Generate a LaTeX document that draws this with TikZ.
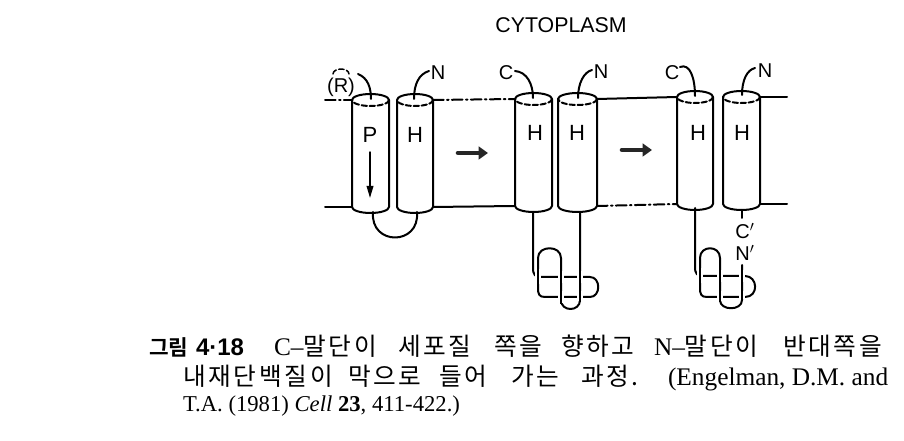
\documentclass[tikz,border=0pt]{standalone}
\usepackage{fontspec}
\usetikzlibrary{arrows.meta}
\setmainfont{Liberation Serif}
\setsansfont{Liberation Sans}
\newfontfamily\kr[LetterSpace=11]{Noto Sans CJK KR}
\newfontfamily\krb[BoldFont={* Bold}]{Noto Sans CJK KR}
\newcommand\mycyl[4]{%
  \pgfmathsetmacro\myrx{(#2-#1)/2}%
  \draw (#1,#3) -- (#1,#4) arc[start angle=180,end angle=0,x radius=\myrx,y radius=6] -- (#2,#3) arc[start angle=0,end angle=-180,x radius=\myrx,y radius=6];
  \draw[dashed] (#2,#3) arc[start angle=0,end angle=180,x radius=\myrx,y radius=6];
}
\begin{document}
\begin{tikzpicture}[x=0.75pt,y=-0.75pt,line width=1.5pt,line cap=round,line join=round,
  dashed/.style={dash pattern=on 4pt off 2pt},
  dashdot/.style={dash pattern=on 8pt off 2.5pt on 1.2pt off 2.5pt},
  lab/.style={font=\sffamily\fontsize{15}{15}\selectfont,inner sep=0},
  hl/.style={font=\sffamily\fontsize{16.5}{16.5}\selectfont,inner sep=0},
  capt/.style={anchor=base west,inner sep=0,font=\rmfamily\fontsize{19}{19}\selectfont},
  kor/.style={anchor=base west,inner sep=0,font=\kr\fontsize{18.5}{18.5}\selectfont},
  bigarrow/.style={line width=3.4pt,black!85,-{Triangle[length=7pt,width=9.5pt]}},
  halo/.style={white,line width=4.5pt,line cap=butt}]
\useasboundingbox (0,0) rectangle (904,441);

% title
\node[font=\sffamily\fontsize{16}{16}\selectfont,inner sep=0] (cyto) at (561,25) {CYTOPLASM};

% membrane lines
\draw[dashdot] (325,100) -- (352,100);
\draw[dashdot] (433,100) -- (515,99);
\draw (597,99) -- (677,97);
\draw (760,97) -- (787,97);
\draw (325,207) -- (352,207);
\draw (433,207) -- (515,206);
\draw[dashdot] (597,206) -- (677,204);
\draw (760,204) -- (787,204);

% stage 1
\mycyl{352}{389}{100}{207}
\mycyl{397}{433}{100}{207}
\node[hl] (p1) at (370,135) {P};
\node[hl] (h1) at (415,135) {H};
\draw[line width=1.1pt,-{Triangle[length=9pt,width=5pt]}] (370,152) -- (370,198);
\node[lab] (r1) at (341,87) {(R)};
\draw[dashed,line width=1.1pt] (333,74) arc[start angle=180,end angle=360,x radius=8,y radius=5];
\draw (358,74) .. controls (368,78) and (371,88) .. (371,99);
\node[lab] (n1) at (438,73) {N};
\draw (414,99) .. controls (414,84) and (419,74) .. (429,71);
\draw (373,212) .. controls (370,246) and (420,246) .. (417,212);

\draw[bigarrow] (458,153) -- (488,153);

% stage 2
\mycyl{515}{552}{99}{206}
\mycyl{558}{597}{99}{206}
\node[hl] (h2a) at (535,133) {H};
\node[hl] (h2b) at (577,133) {H};
\node[lab] (c2) at (506,73) {C};
\draw (515,71) .. controls (527,72) and (533,84) .. (533,98);
\node[lab] (n2) at (601,72) {N};
\draw (578,98) .. controls (578,83) and (584,72) .. (592,70);
\draw (533,212) -- (533,268) .. controls (533,275) and (535,277) .. (542,277) -- (590,277)
  .. controls (601,277) and (601,297) .. (590,297) -- (545,297)
  .. controls (539,297) and (538,294) .. (538,288) -- (538,258)
  .. controls (538,245) and (561,245) .. (561,258) -- (561,300)
  .. controls (561,312) and (580,312) .. (580,300) -- (580,212);
\foreach \xx/\ya/\yb in {538/269/284,561/271/283,561/291/303,580/271/283,580/291/301}{
  \draw[halo] (\xx,\ya) -- (\xx,\yb);
  \draw[line cap=butt] (\xx,\ya-1) -- (\xx,\yb+1);
}

\draw[bigarrow] (622,150) -- (652,150);

% stage 3
\mycyl{677}{713}{97}{204}
\mycyl{723}{760}{97}{204}
\node[hl] (h3a) at (698,133) {H};
\node[hl] (h3b) at (742,133) {H};
\node[lab] (c3) at (672,73) {C};
\draw (680,67) .. controls (690,63) and (695,78) .. (695,96);
\node[lab] (n3) at (765,71) {N};
\draw (742,95) .. controls (742,80) and (747,70) .. (755,68);
\draw (742,210) -- (742,218);
\node[lab] (cp) at (745,231) {C$'$};
\node[lab] (np) at (745,253) {N$'$};
\draw (695,208) -- (695,267) .. controls (695,274) and (697,276) .. (704,276) -- (745,276)
  .. controls (758,276) and (759,297) .. (745,297) -- (707,297)
  .. controls (701,297) and (700,294) .. (700,288) -- (700,258)
  .. controls (700,245) and (720,245) .. (720,258) -- (720,300)
  .. controls (720,311) and (742,311) .. (742,300) -- (742,265);
\foreach \xx/\ya/\yb in {700/268/283,720/270/282,720/291/301,742/270/282,742/291/299}{
  \draw[halo] (\xx,\ya) -- (\xx,\yb);
  \draw[line cap=butt] (\xx,\ya-1) -- (\xx,\yb+1);
}

% caption
\node[anchor=base west,inner sep=0,font=\krb\bfseries\fontsize{16}{16}\selectfont] (l1a) at (148,356) {그림};
\node[capt] (l1b) at (195,356) {{\sffamily\bfseries\fontsize{18}{18}\selectfont 4·18}};
\node[capt] (l1c) at (273,356) {C–{\kr\fontsize{18.5}{18.5}\selectfont 말단이}};
\node[kor] (l1d) at (397,356) {세포질};
\node[kor] (l1e) at (493,356) {쪽을};
\node[kor] (l1f) at (560,356) {향하고};
\node[capt] (l1g) at (653,356) {N–{\kr\fontsize{18.5}{18.5}\selectfont 말단이}};
\node[kor] (l1h) at (782,356) {반대쪽을};
\node[kor] (l2a) at (182,386) {내재단백질이};
\node[kor] (l2b) at (347,386) {막으로};
\node[kor] (l2c) at (438,386) {들어};
\node[kor] (l2d) at (510,386) {가는};
\node[kor] (l2e) at (580,386) {과정.};
\node[capt] (l2f) at (667,386) {(Engelman, D.M. and};
\node[capt,font=\rmfamily\fontsize{17}{17}\selectfont] (l3) at (182,412) {T.A. (1981) \textit{Cell} \textbf{23}, 411-422.)};
\end{tikzpicture}
\end{document}
